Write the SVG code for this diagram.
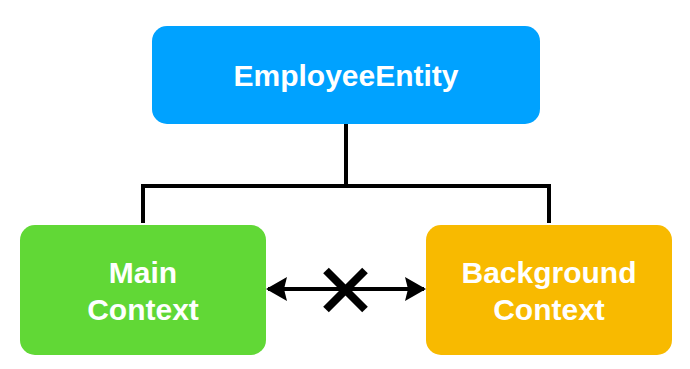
<svg xmlns="http://www.w3.org/2000/svg" width="690" height="369" viewBox="0 0 690 369">
  <style>
    .box-label { font-family: "Liberation Sans", Arial, Helvetica, sans-serif; font-weight: bold; font-size: 30px; fill: #ffffff; text-anchor: middle; }
    .conn { fill: none; stroke: #000000; stroke-width: 4; stroke-linejoin: miter; }
    .cross { stroke: #000000; stroke-width: 8; stroke-linecap: butt; }
  </style>
  <defs>
    <marker id="arrow" viewBox="0 0 21 24" refX="19" refY="12" markerWidth="21" markerHeight="24" markerUnits="userSpaceOnUse" orient="auto-start-reverse">
      <path d="M0,0 L21,12 L0,24 L3,12 Z" fill="#000000"/>
    </marker>
  </defs>
  <rect width="690" height="369" fill="#ffffff"/>

  <g id="connectors">
    <path class="conn" d="M346,124 L346,186"/>
    <path class="conn" d="M143,223 L143,186 L549,186 L549,223"/>
    <line class="conn" x1="268" y1="289" x2="424" y2="289" marker-start="url(#arrow)" marker-end="url(#arrow)"/>
    <g id="no-link-mark">
      <line class="cross" x1="326" y1="270.5" x2="365" y2="309.5"/>
      <line class="cross" x1="365" y1="270.5" x2="326" y2="309.5"/>
    </g>
  </g>

  <g id="employee-entity">
    <rect x="152" y="26" width="388" height="98" rx="15" ry="15" fill="#00A2FF"/>
    <text class="box-label" x="346" y="86">EmployeeEntity</text>
  </g>

  <g id="main-context">
    <rect x="20" y="225" width="246" height="130" rx="15" ry="15" fill="#61D836"/>
    <text class="box-label" x="143" y="283">Main</text>
    <text class="box-label" x="143" y="320">Context</text>
  </g>

  <g id="background-context">
    <rect x="426" y="225" width="246" height="130" rx="15" ry="15" fill="#F8BA00"/>
    <text class="box-label" x="549" y="283">Background</text>
    <text class="box-label" x="549" y="320">Context</text>
  </g>
</svg>
